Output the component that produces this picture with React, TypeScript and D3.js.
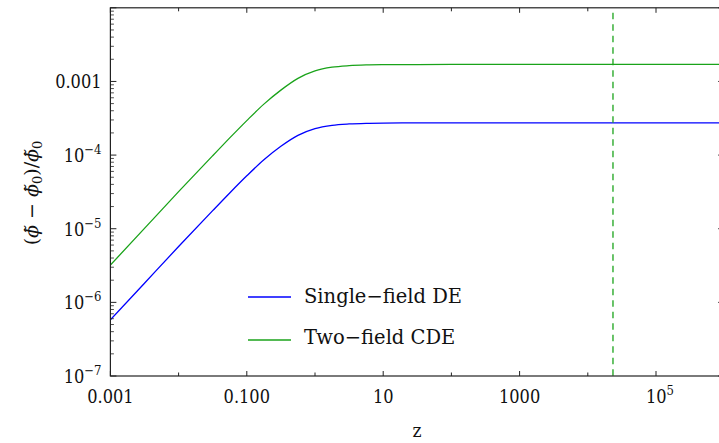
import React from 'react';
import * as d3 from 'd3';

const zValues = [0.001, 0.00316, 0.01, 0.0316, 0.0562, 0.1, 0.178, 0.316, 0.562, 1, 1.78, 3.16, 5.62, 10, 31.6, 100, 1e6];
const singleField = [5.78e-7, 1.82e-6, 5.73e-6, 1.758e-5, 3.06e-5, 5.23e-5, 8.63e-5, 1.318e-4, 1.855e-4, 2.289e-4, 2.536e-4, 2.647e-4, 2.70e-4, 2.721e-4, 2.734e-4, 2.738e-4, 2.74e-4];
const twoField = [3.21e-6, 1.01e-5, 3.19e-5, 9.8e-5, 1.71e-4, 2.94e-4, 4.92e-4, 7.62e-4, 1.10e-3, 1.39e-3, 1.56e-3, 1.637e-3, 1.674e-3, 1.688e-3, 1.697e-3, 1.70e-3, 1.70e-3];
const dashedZ = 23400;

const xTickExps = [-3, -2, -1, 0, 1, 2, 3, 4, 5, 6];
const xLabels: { exp: number; base: string; sup?: string }[] = [
  { exp: -3, base: '0.001' },
  { exp: -1, base: '0.100' },
  { exp: 1, base: '10' },
  { exp: 3, base: '1000' },
  { exp: 5, base: '10', sup: '5' },
];
const yLabels: { exp: number; base: string; sup?: string }[] = [
  { exp: -3, base: '0.001' },
  { exp: -4, base: '10', sup: '\u22124' },
  { exp: -5, base: '10', sup: '\u22125' },
  { exp: -6, base: '10', sup: '\u22126' },
  { exp: -7, base: '10', sup: '\u22127' },
];
const legendItems = [
  { name: 'Single\u2212field DE', color: '#0000ff' },
  { name: 'Two\u2212field CDE', color: '#1aa31a' },
];

const W = 719, H = 443;
const L = 110.4, R = 724.2, T = 7.8, B = 376;
const FONT = "'DejaVu Serif', serif";
const FRAME = '#222';

export default function App() {
  const x = d3.scaleLog().domain([1e-3, 1e6]).range([L, R]);
  const y = d3.scaleLog().domain([1e-7, 1e-2]).range([B, T]);
  const line = d3.line<number>()
    .x((_, i) => x(zValues[i]))
    .y((d) => y(d))
    .curve(d3.curveMonotoneX);

  const yMinor: number[] = [];
  for (let e = -7; e < -2; e++) for (let k = 2; k <= 9; k++) yMinor.push(k * Math.pow(10, e));
  const yMajor = [-7, -6, -5, -4, -3, -2].map((e) => Math.pow(10, e));

  const tickText = { fontFamily: FONT, fontSize: 18, fill: '#111', style: { fontStretch: 'condensed' as const } };

  return (
    <svg width={W} height={H} style={{ position: 'absolute', left: 0, top: 0, background: '#fff' }}>
      <defs>
        <clipPath id="plot">
          <rect x={L} y={T} width={R - L} height={B - T} />
        </clipPath>
      </defs>
      <g clipPath="url(#plot)" fill="none">
        <path d={line(singleField) || ''} stroke={legendItems[0].color} strokeWidth={1.3} />
        <path d={line(twoField) || ''} stroke={legendItems[1].color} strokeWidth={1.3} />
        <line x1={x(dashedZ)} x2={x(dashedZ)} y1={T + 5} y2={B} stroke="#1aa31a" strokeWidth={1.3} strokeDasharray="6.5,5" />
      </g>
      <rect x={L} y={T} width={R - L} height={B - T} fill="none" stroke={FRAME} strokeWidth={1.2} />
      {xTickExps.map((e) => {
        const xv = x(Math.pow(10, e));
        const len = e % 2 !== 0 ? 5 : 3.5;
        return (
          <g key={'xt' + e} stroke={FRAME} strokeWidth={1}>
            <line x1={xv} x2={xv} y1={B} y2={B - len} />
            <line x1={xv} x2={xv} y1={T} y2={T + len} />
          </g>
        );
      })}
      {yMajor.map((v, i) => (
        <g key={'ym' + i} stroke={FRAME} strokeWidth={1}>
          <line x1={L} x2={L + 6} y1={y(v)} y2={y(v)} />
          <line x1={R} x2={R - 6} y1={y(v)} y2={y(v)} />
        </g>
      ))}
      {yMinor.map((v, i) => (
        <g key={'yn' + i} stroke={FRAME} strokeWidth={0.8}>
          <line x1={L} x2={L + 3.5} y1={y(v)} y2={y(v)} />
          <line x1={R} x2={R - 3.5} y1={y(v)} y2={y(v)} />
        </g>
      ))}
      {xLabels.map((lb) => (
        <text key={'xl' + lb.exp} x={x(Math.pow(10, lb.exp)) + (lb.sup ? 4 : 0)} y={402.5} textAnchor="middle" {...tickText}>
          {lb.base}
          {lb.sup && <tspan dy={-8} fontSize={13}>{lb.sup}</tspan>}
        </text>
      ))}
      {yLabels.map((lb) => (
        <text key={'yl' + lb.exp} x={101.5} y={y(Math.pow(10, lb.exp)) + 7} textAnchor="end" {...tickText}>
          {lb.base}
          {lb.sup && <tspan dy={-8} fontSize={13}>{lb.sup}</tspan>}
        </text>
      ))}
      <text x={417} y={437} textAnchor="middle" {...tickText} fontSize={19}>z</text>
      <text transform="translate(38,193) rotate(-90)" textAnchor="middle" fontFamily={FONT} fontSize={19} fill="#111">
        (<tspan fontStyle="italic">{'\u03D5\u0303'}</tspan>{' \u2212 '}<tspan fontStyle="italic">{'\u03D5\u0303'}</tspan>
        <tspan fontSize={13} dy={4}>0</tspan><tspan dy={-4}>)/</tspan>
        <tspan fontStyle="italic">{'\u03D5\u0303'}</tspan><tspan fontSize={13} dy={4}>0</tspan>
      </text>
      {legendItems.map((it, i) => (
        <g key={'lg' + i}>
          <line x1={248} x2={291} y1={297 + i * 43} y2={297 + i * 43} stroke={it.color} strokeWidth={1.3} />
          <text x={304} y={303 + i * 41} fontFamily={FONT} fontSize={19.5} fill="#111">{it.name}</text>
        </g>
      ))}
    </svg>
  );
}
